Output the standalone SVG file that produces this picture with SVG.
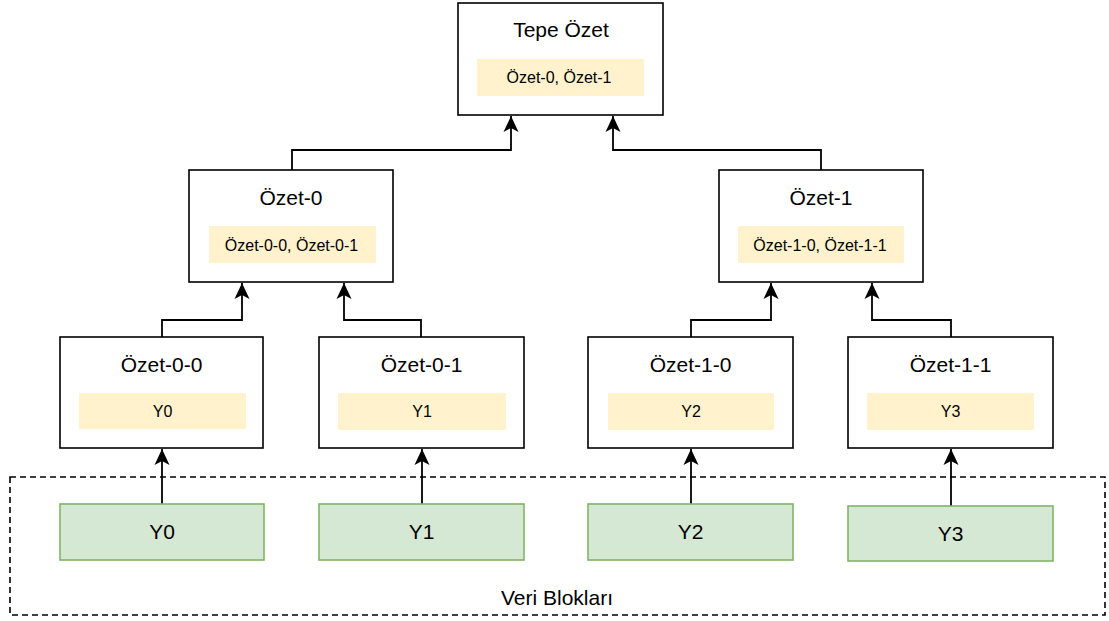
<svg xmlns="http://www.w3.org/2000/svg" width="1109" height="621" viewBox="0 0 1109 621">
  <style>
    .box { fill: #ffffff; stroke: #000000; stroke-width: 1.6; }
    .inner { fill: #fff2cc; stroke: none; }
    .data { fill: #d5e8d4; stroke: #82b366; stroke-width: 1.6; }
    .title { font-family: "Liberation Sans", Arial, sans-serif; font-size: 21px; fill: #000; text-anchor: middle; }
    .small { font-family: "Liberation Sans", Arial, sans-serif; font-size: 16px; fill: #000; text-anchor: middle; }
    .label { font-family: "Liberation Sans", Arial, sans-serif; font-size: 21px; fill: #000; text-anchor: middle; }
    .link { fill: none; stroke: #000; stroke-width: 1.8; marker-end: url(#arrow); }
  </style>
  <defs>
    <!-- notched block arrowhead, tip at the path end -->
    <marker id="arrow" markerUnits="userSpaceOnUse" markerWidth="20" markerHeight="20" viewBox="-18 -10 20 20" refX="0" refY="0" orient="auto">
      <path d="M 0 0 L -16 -7.5 L -12 0 L -16 7.5 Z" fill="#000"/>
    </marker>
  </defs>
  <rect width="1109" height="621" fill="#ffffff"/>

  <!-- data block area -->
  <g id="data-area">
    <rect x="10" y="477" width="1095" height="138" fill="none" stroke="#000" stroke-width="1.6" stroke-dasharray="6 4"/>
    <text class="label" x="557" y="605" font-size="20.5">Veri Blokları</text>
  </g>

  <!-- connectors -->
  <g id="connectors">
    <path class="link" d="M 292 170 L 292 150 L 511 150 L 511 116"/>
    <path class="link" d="M 821 170 L 821 150 L 613 150 L 613 116"/>
    <path class="link" d="M 162 337 L 162 320 L 242 320 L 242 283"/>
    <path class="link" d="M 421 337 L 421 320 L 344 320 L 344 283"/>
    <path class="link" d="M 691 337 L 691 320 L 771 320 L 771 283"/>
    <path class="link" d="M 951 337 L 951 320 L 872 320 L 872 283"/>
    <path class="link" d="M 162 504 L 162 449"/>
    <path class="link" d="M 422 504 L 422 449"/>
    <path class="link" d="M 691 504 L 691 449"/>
    <path class="link" d="M 951 506 L 951 449"/>
  </g>

  <!-- root hash -->
  <g id="tepe-ozet">
    <rect class="box" x="458" y="3" width="205" height="112"/>
    <text class="title" x="561" y="37">Tepe Özet</text>
    <rect class="inner" x="477" y="59" width="167" height="37"/>
    <text class="small" x="559" y="83">Özet-0, Özet-1</text>
  </g>

  <!-- second level -->
  <g id="ozet-0">
    <rect class="box" x="189" y="170" width="204" height="112"/>
    <text class="title" x="291" y="205">Özet-0</text>
    <rect class="inner" x="209" y="226" width="167" height="37"/>
    <text class="small" x="291.5" y="251">Özet-0-0, Özet-0-1</text>
  </g>
  <g id="ozet-1">
    <rect class="box" x="719" y="170" width="204" height="112"/>
    <text class="title" x="821" y="205">Özet-1</text>
    <rect class="inner" x="738" y="226" width="166" height="37"/>
    <text class="small" x="820" y="251">Özet-1-0, Özet-1-1</text>
  </g>

  <!-- leaf hashes -->
  <g id="ozet-0-0">
    <rect class="box" x="60" y="337" width="203" height="111"/>
    <text class="title" x="161.5" y="372">Özet-0-0</text>
    <rect class="inner" x="79" y="393" width="167" height="36"/>
    <text class="small" x="162.5" y="417">Y0</text>
  </g>
  <g id="ozet-0-1">
    <rect class="box" x="319" y="337" width="205" height="111"/>
    <text class="title" x="421.5" y="372">Özet-0-1</text>
    <rect class="inner" x="338" y="393" width="168" height="37"/>
    <text class="small" x="422" y="417">Y1</text>
  </g>
  <g id="ozet-1-0">
    <rect class="box" x="588" y="337" width="205" height="111"/>
    <text class="title" x="690.5" y="372">Özet-1-0</text>
    <rect class="inner" x="608" y="393" width="166" height="37"/>
    <text class="small" x="691" y="417">Y2</text>
  </g>
  <g id="ozet-1-1">
    <rect class="box" x="848" y="337" width="205" height="111"/>
    <text class="title" x="950.5" y="372">Özet-1-1</text>
    <rect class="inner" x="867" y="393" width="167" height="37"/>
    <text class="small" x="950.5" y="417">Y3</text>
  </g>

  <!-- data blocks -->
  <g id="blok-y0">
    <rect class="data" x="60" y="504" width="204" height="56"/>
    <text class="label" x="162" y="539">Y0</text>
  </g>
  <g id="blok-y1">
    <rect class="data" x="319" y="504" width="205" height="56"/>
    <text class="label" x="421.5" y="539">Y1</text>
  </g>
  <g id="blok-y2">
    <rect class="data" x="588" y="504" width="205" height="56"/>
    <text class="label" x="690.5" y="539">Y2</text>
  </g>
  <g id="blok-y3">
    <rect class="data" x="848" y="506" width="205" height="55"/>
    <text class="label" x="950.5" y="541">Y3</text>
  </g>
</svg>
